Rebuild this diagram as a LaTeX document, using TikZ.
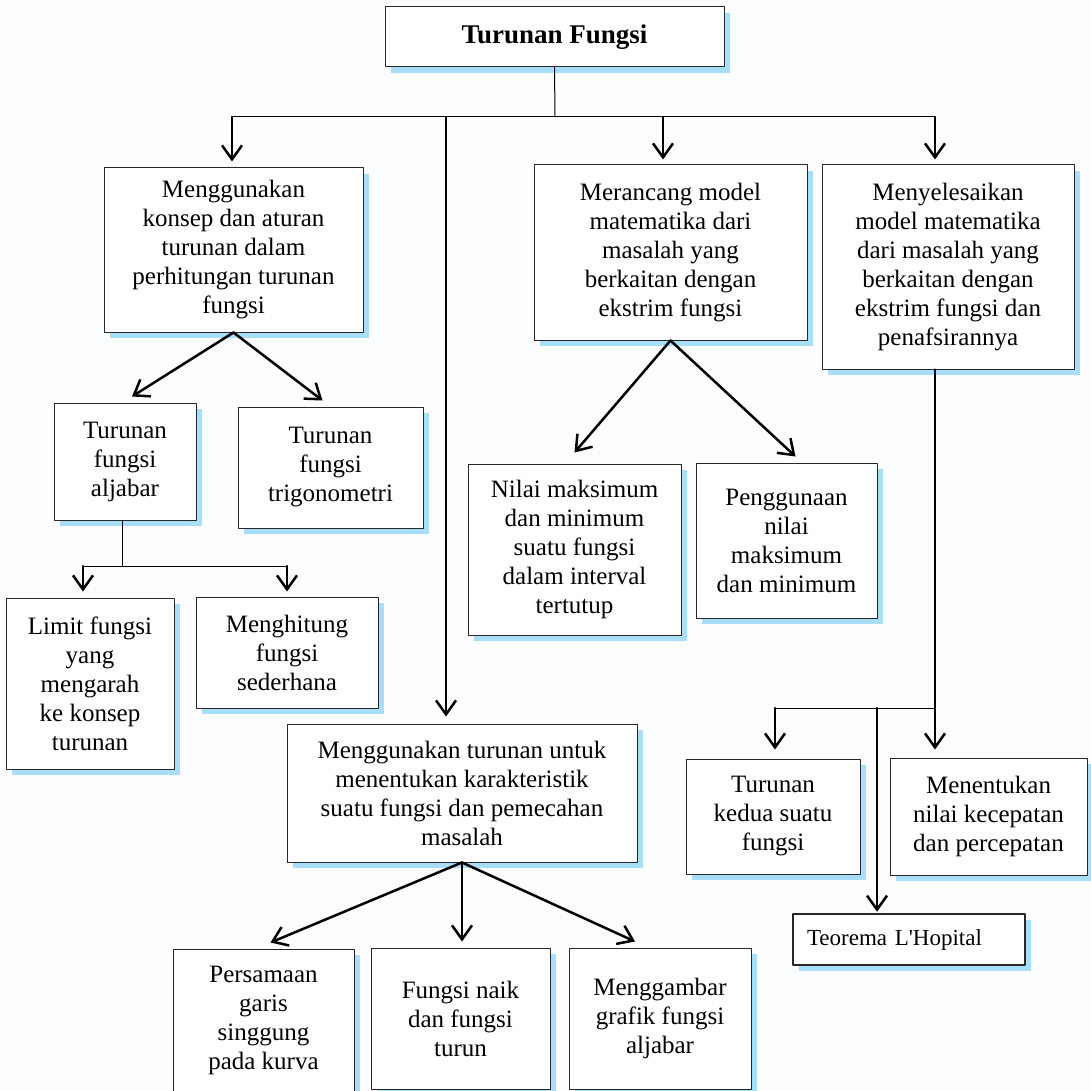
\documentclass[tikz,border=0pt]{standalone}
\usepackage{fontspec}
\setmainfont{Liberation Serif}
\usetikzlibrary{arrows.meta,shadows}
\definecolor{bayang}{RGB}{168,222,248}
\definecolor{latar}{RGB}{251,253,255}
\definecolor{tepi}{RGB}{40,40,40}
\begin{document}
\begin{tikzpicture}[x=1pt,y=-1pt,line cap=round,line join=round,
  kotak/.style={draw=tepi,line width=1pt,fill=white,align=center,inner sep=0pt,
    font=\fontsize{25}{29}\selectfont,
    drop shadow={shadow xshift=6pt,shadow yshift=-6pt,fill=bayang,opacity=1}},
  garis/.style={line width=1pt},
  tebal/.style={line width=2.5pt},
  panah/.style={line width=2.5pt,-{Straight Barb[length=14pt,width=20pt]}}]
  \useasboundingbox (0,0) rectangle (1090,1091);
  \fill[latar] (0,0) rectangle (1090,1091);
  % kotak-kotak
  \node[kotak,minimum width=339,minimum height=60,font=\bfseries\fontsize{27}{30}\selectfont] (judul) at (554.5,37) {Turunan Fungsi};
  \node[kotak,minimum width=259,minimum height=164] (konsep) at (233.5,250) {Menggunakan\\konsep dan aturan\\turunan dalam\\perhitungan turunan\\fungsi};
  \node[kotak,minimum width=273,minimum height=175] (rancang) at (670.5,252.5) {Merancang model\\matematika dari\\masalah yang\\berkaitan dengan\\ekstrim fungsi};
  \node[kotak,minimum width=252,minimum height=204] (selesai) at (948,267) {Menyelesaikan\\model matematika\\dari masalah yang\\berkaitan dengan\\ekstrim fungsi dan\\penafsirannya};
  \node[kotak,minimum width=142,minimum height=117] (aljabar) at (125,461.5) {Turunan\\fungsi\\aljabar};
  \node[kotak,minimum width=185,minimum height=121] (trigo) at (330.5,467.5) {Turunan\\fungsi\\trigonometri};
  \node[kotak,minimum width=168,minimum height=171] (limit) at (90,683.5) {Limit fungsi\\yang\\mengarah\\ke konsep\\turunan};
  \node[kotak,minimum width=182,minimum height=111] (hitung) at (287,652.5) {Menghitung\\fungsi\\sederhana};
  \node[kotak,minimum width=213,minimum height=171] (maksmin) at (574.5,549.5) {Nilai maksimum\\dan minimum\\suatu fungsi\\dalam interval\\tertutup};
  \node[kotak,minimum width=181,minimum height=155] (guna) at (786.5,540.5) {Penggunaan\\nilai\\maksimum\\dan minimum};
  \node[kotak,minimum width=350,minimum height=138] (karakter) at (462,793) {Menggunakan turunan untuk\\menentukan karakteristik\\suatu fungsi dan pemecahan\\masalah};
  \node[kotak,minimum width=181,minimum height=143] (singgung) at (263.5,1020.5) {Persamaan\\garis\\singgung\\pada kurva};
  \node[kotak,minimum width=179,minimum height=141] (naik) at (460.5,1018.5) {Fungsi naik\\dan fungsi\\turun};
  \node[kotak,minimum width=182,minimum height=141] (grafik) at (660,1018.5) {Menggambar\\grafik fungsi\\aljabar};
  \node[kotak,minimum width=174,minimum height=115] (kedua) at (773,816.5) {Turunan\\kedua suatu\\fungsi};
  \node[kotak,minimum width=197,minimum height=117] (kecepatan) at (988.5,816.5) {Menentukan\\nilai kecepatan\\dan percepatan};
  \node[kotak,line width=2.5pt,minimum width=232,minimum height=51,text width=204,align=left,font=\fontsize{23}{27}\selectfont] (hopital) at (909,939.5) {Teorema L\textquotesingle Hopital};
  % cabang dari judul
  \coordinate (simpul) at (555,117);
  \coordinate (cabA) at (232,117);
  \coordinate (cabB) at (446,117);
  \coordinate (cabC) at (663,117);
  \coordinate (cabD) at (935,117);
  \draw[garis] (judul.south) -- (simpul);
  \draw[garis] (cabA) -- (cabD);
  \draw[panah,shorten >=6pt] (cabA) -- (cabA |- konsep.north);
  \draw[panah,shorten >=7pt] (cabB) -- (cabB |- karakter.north);
  \draw[panah,shorten >=5pt] (cabC) -- (cabC |- rancang.north);
  \draw[panah,shorten >=5pt] (cabD) -- (cabD |- selesai.north);
  % cabang konsep
  \draw[panah] (konsep.south) -- ([xshift=7pt,yshift=6pt]aljabar.north);
  \draw[panah] (konsep.south) -- ([xshift=-8pt,yshift=6pt]trigo.north);
  \coordinate (simpulB) at (122,566);
  \coordinate (cabE) at (83,566);
  \coordinate (cabF) at (287,566);
  \draw[garis] (simpulB |- aljabar.south) -- (simpulB);
  \draw[garis] (cabE) -- (cabF);
  \draw[panah,shorten >=6pt] (cabE) -- (cabE |- limit.north);
  \draw[panah,shorten >=5pt] (cabF) -- (cabF |- hitung.north);
  % cabang rancang
  \draw[panah] (rancang.south) -- ([yshift=11pt]maksmin.north);
  \draw[panah] (rancang.south) -- ([xshift=9pt,yshift=6pt]guna.north);
  % cabang karakter
  \draw[panah] (karakter.south) -- ([xshift=7pt,yshift=6pt]singgung.north);
  \draw[panah] (karakter.south) -- ([xshift=1.5pt,yshift=6pt]naik.north);
  \draw[panah] (karakter.south) -- ([xshift=-25pt,yshift=6pt]grafik.north);
  % cabang selesai
  \coordinate (simpulC) at (935,708);
  \coordinate (cabG) at (775,708);
  \coordinate (cabH) at (877,708);
  \draw[tebal] (simpulC |- selesai.south) -- (simpulC);
  \draw[garis] (cabG) -- (simpulC);
  \draw[panah,shorten >=8pt] (simpulC) -- (simpulC |- kecepatan.north);
  \draw[panah,shorten >=9pt] (cabG) -- (cabG |- kedua.north);
  \draw[panah,shorten >=1pt] (cabH) -- (cabH |- hopital.north);
\end{tikzpicture}
\end{document}
